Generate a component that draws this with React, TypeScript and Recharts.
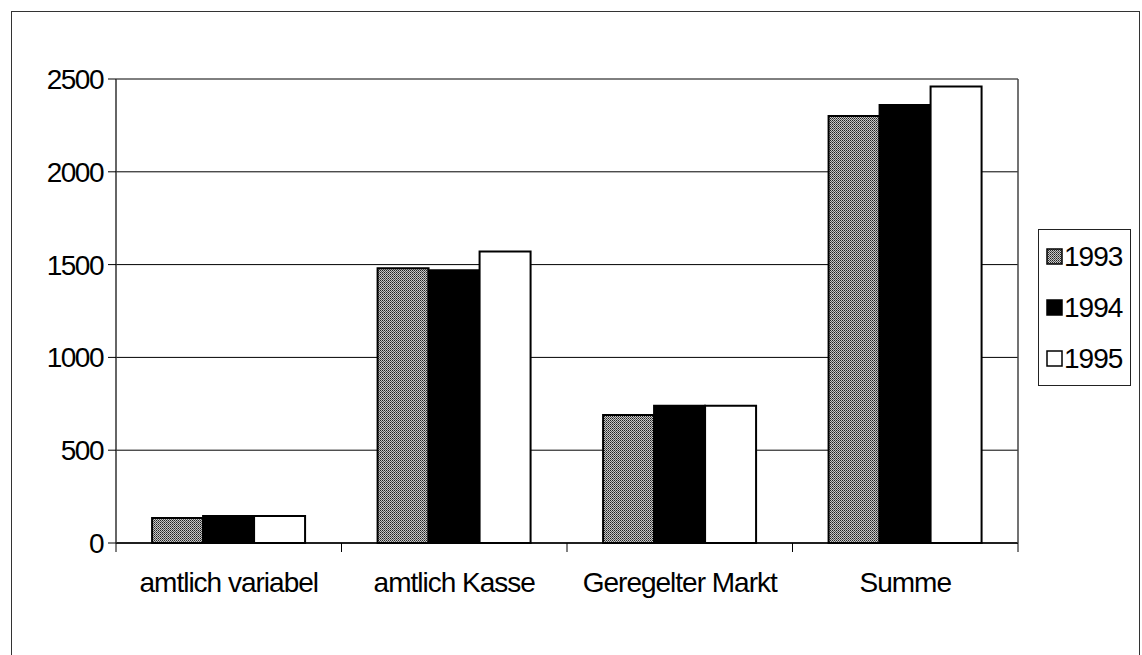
import { Bar, BarChart, CartesianGrid, XAxis, YAxis } from 'recharts';

const categories = ['amtlich variabel', 'amtlich Kasse', 'Geregelter Markt', 'Summe'];
const values1993 = [135, 1480, 690, 2300];
const values1994 = [145, 1470, 740, 2360];
const values1995 = [145, 1570, 740, 2460];
const yTicks = [0, 500, 1000, 1500, 2000, 2500];
const seriesLabels = ['1993', '1994', '1995'];

const data = categories.map((name, i) => ({
  name,
  y1993: values1993[i],
  y1994: values1994[i],
  y1995: values1995[i],
}));

const W = 1142;
const H = 655;
const PLOT_LEFT = 116;
const PLOT_RIGHT = 1018;
const BAND = (PLOT_RIGHT - PLOT_LEFT) / categories.length;
const FONT = '"Liberation Sans", Arial, sans-serif';

function Dots({ id }: { id: string }) {
  return (
    <pattern id={id} width="2" height="2" patternUnits="userSpaceOnUse">
      <rect width="2" height="2" fill="#c8c8c8" />
      <rect width="1" height="1" fill="#222" />
      <rect x="1" y="1" width="1" height="1" fill="#555" />
    </pattern>
  );
}

function CategoryTick(props: any) {
  const { x, y, payload, index } = props;
  const left = x - BAND / 2;
  return (
    <g>
      <line x1={left} x2={left} y1={y} y2={y + 9} stroke="#000" strokeWidth={1} />
      {index === categories.length - 1 && (
        <line x1={x + BAND / 2} x2={x + BAND / 2} y1={y} y2={y + 9} stroke="#000" strokeWidth={1} />
      )}
      <text x={x} y={y + 49} textAnchor="middle" fontFamily={FONT} fontSize={28} letterSpacing={-1} fill="#000">
        {payload.value}
      </text>
    </g>
  );
}

const legendFills = ['url(#dotsLegend)', '#000', '#fff'];

function LegendBox() {
  return (
    <div
      style={{
        position: 'absolute',
        left: 1038,
        top: 229,
        border: '1px solid #222',
        width: 93,
        height: 157,
        boxSizing: 'border-box',
        paddingTop: 1,
        fontFamily: FONT,
        fontSize: 28,
        letterSpacing: -1,
        color: '#000',
        background: '#fff',
      }}
    >
      <svg width="0" height="0" style={{ position: 'absolute' }}>
        <defs>
          <Dots id="dotsLegend" />
        </defs>
      </svg>
      {seriesLabels.map((label, i) => (
        <div key={label} style={{ display: 'flex', alignItems: 'center', height: 51, paddingLeft: 7 }}>
          <svg width="17" height="17" style={{ marginRight: 1 }}>
            <rect x="1" y="1" width="15" height="15" fill={legendFills[i]} stroke="#000" strokeWidth={1.5} />
          </svg>
          <span>{label}</span>
        </div>
      ))}
    </div>
  );
}

export default function App() {
  return (
    <div style={{ position: 'absolute', left: 0, top: 0, width: W, height: H, overflow: 'hidden', background: '#fff' }}>
      <div
        style={{
          position: 'absolute',
          left: 11,
          top: 11,
          width: 1127,
          height: 700,
          borderLeft: '1px solid #333',
          borderTop: '1px solid #333',
          borderRight: '1px solid #333',
        }}
      />
      <BarChart
        width={W}
        height={H}
        data={data}
        margin={{ top: 79, right: 0, bottom: 0, left: 0 }}
        barCategoryGap="16%"
        barGap={0}
        style={{ position: 'absolute', left: 0, top: 0 }}
      >
        <defs>
          <Dots id="dots1993" />
        </defs>
        <CartesianGrid horizontal vertical={false} stroke="#000" strokeWidth={1} yAxisId="left" />
        <XAxis
          dataKey="name"
          height={112}
          tickLine={false}
          tickSize={0}
          tickMargin={0}
          axisLine={{ stroke: '#000', strokeWidth: 1.5 }}
          tick={<CategoryTick />}
          interval={0}
        />
        <YAxis
          yAxisId="left"
          width={PLOT_LEFT}
          domain={[0, 2500]}
          ticks={yTicks}
          interval={0}
          tickSize={8}
          tickMargin={5}
          axisLine={{ stroke: '#333', strokeWidth: 1.5 }}
          tickLine={{ stroke: '#000' }}
          tick={{ fill: '#000', fontSize: 28, fontFamily: FONT, letterSpacing: -1.5 }}
        />
        <YAxis
          yAxisId="right"
          orientation="right"
          width={W - PLOT_RIGHT}
          domain={[0, 2500]}
          tick={false}
          tickLine={false}
          axisLine={{ stroke: '#444', strokeWidth: 1.5 }}
        />
        <Bar yAxisId="left" dataKey="y1993" name="1993" fill="url(#dots1993)" stroke="#000" strokeWidth={2} isAnimationActive={false} />
        <Bar yAxisId="left" dataKey="y1994" name="1994" fill="#000" stroke="#000" strokeWidth={2} isAnimationActive={false} />
        <Bar yAxisId="left" dataKey="y1995" name="1995" fill="#fff" stroke="#000" strokeWidth={2} isAnimationActive={false} />
      </BarChart>
      <LegendBox />
    </div>
  );
}
